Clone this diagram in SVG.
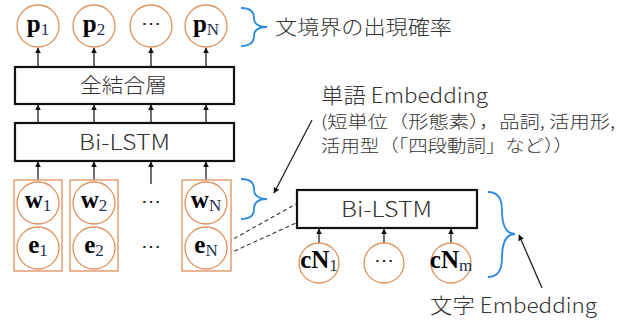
<svg xmlns="http://www.w3.org/2000/svg" width="624" height="320" viewBox="0 0 624 320">
<style>
.circ{fill:#fff;stroke:#E0905A;stroke-width:1.3}
.grp{fill:#fff;stroke:#E0905A;stroke-width:1.3}
.box{fill:#fff;stroke:#111;stroke-width:2.2}
.arr{stroke:#222;stroke-width:1.3;fill:none;marker-end:url(#ah)}
.dash{stroke:#333;stroke-width:1.1;stroke-dasharray:4,3;fill:none}
.brace{stroke:#2E8BE0;stroke-width:1.8;fill:none}
.lbl{font-family:"Liberation Serif",serif;font-weight:bold;font-size:25px;fill:#000}
.sub{font-size:17px;font-weight:normal;fill:#1F2F50}
.dots{font-family:"Liberation Serif",serif;font-size:20px;fill:#222}
.jp{font-family:"Noto Sans CJK JP","Noto Sans",sans-serif;font-weight:300;fill:#333}
</style>
<defs>
<marker id="ah" viewBox="0 0 10 10" refX="9" refY="5" markerWidth="6" markerHeight="7" orient="auto" markerUnits="userSpaceOnUse"><path d="M0,0 L10,5 L0,10 z" fill="#111"/></marker>
</defs>

<g id="connectors">
<line class="arr" x1="38" y1="67" x2="38" y2="48"/>
<line class="arr" x1="94" y1="67" x2="94" y2="48"/>
<line class="arr" x1="151" y1="67" x2="151" y2="48"/>
<line class="arr" x1="206" y1="67" x2="206" y2="48"/>
<line class="arr" x1="38" y1="123" x2="38" y2="105"/>
<line class="arr" x1="94" y1="123" x2="94" y2="105"/>
<line class="arr" x1="151" y1="123" x2="151" y2="105"/>
<line class="arr" x1="206" y1="123" x2="206" y2="105"/>
<line class="arr" x1="38" y1="180" x2="38" y2="162"/>
<line class="arr" x1="94" y1="180" x2="94" y2="162"/>
<line class="arr" x1="151" y1="184" x2="151" y2="162"/>
<line class="arr" x1="206" y1="180" x2="206" y2="162"/>
<line class="arr" x1="319" y1="243" x2="319" y2="229"/>
<line class="arr" x1="384" y1="243" x2="384" y2="229"/>
<line class="arr" x1="451" y1="243" x2="451" y2="229"/>
<line class="dash" x1="228" y1="242" x2="296" y2="204"/>
<line class="dash" x1="228" y1="254" x2="296" y2="223"/>
<line class="arr" x1="312" y1="120" x2="274" y2="193"/>
<line class="arr" x1="542" y1="288" x2="519" y2="235"/>
</g>

<g id="p1"><circle class="circ" cx="38" cy="26" r="21"/><text class="lbl" x="38" y="32" text-anchor="middle">p<tspan class="sub" dy="3">1</tspan></text></g>
<g id="p2"><circle class="circ" cx="94" cy="26" r="21"/><text class="lbl" x="94" y="32" text-anchor="middle">p<tspan class="sub" dy="3">2</tspan></text></g>
<g id="pdots"><circle class="circ" cx="151" cy="26" r="21"/><text class="dots" x="151" y="30" text-anchor="middle">⋯</text></g>
<g id="pN"><circle class="circ" cx="206" cy="26" r="21"/><text class="lbl" x="206" y="32" text-anchor="middle">p<tspan class="sub" dy="3">N</tspan></text></g>

<g id="fc"><rect class="box" x="15" y="67" width="219" height="37"/><text class="jp" x="80" y="93" font-size="20" textLength="87" lengthAdjust="spacingAndGlyphs">全結合層</text></g>
<g id="bilstm1"><rect class="box" x="15" y="123" width="219" height="38"/><text class="jp" x="79" y="150" font-size="21" textLength="91" lengthAdjust="spacingAndGlyphs">Bi-LSTM</text></g>

<g id="word1"><rect class="grp" x="14" y="180" width="48" height="91"/>
<circle class="circ" cx="38" cy="203" r="21"/><text class="lbl" x="38" y="208" text-anchor="middle">w<tspan class="sub" dy="3">1</tspan></text>
<circle class="circ" cx="38" cy="248" r="21"/><text class="lbl" x="38" y="253" text-anchor="middle">e<tspan class="sub" dy="3">1</tspan></text></g>
<g id="word2"><rect class="grp" x="70" y="180" width="48" height="91"/>
<circle class="circ" cx="94" cy="203" r="21"/><text class="lbl" x="94" y="208" text-anchor="middle">w<tspan class="sub" dy="3">2</tspan></text>
<circle class="circ" cx="94" cy="248" r="21"/><text class="lbl" x="94" y="253" text-anchor="middle">e<tspan class="sub" dy="3">2</tspan></text></g>
<g id="worddots"><text class="dots" x="151" y="208" text-anchor="middle">⋯</text><text class="dots" x="151" y="253" text-anchor="middle">⋯</text></g>
<g id="wordN"><rect class="grp" x="182" y="180" width="49" height="91"/>
<circle class="circ" cx="206" cy="203" r="21"/><text class="lbl" x="206" y="208" text-anchor="middle">w<tspan class="sub" dy="3">N</tspan></text>
<circle class="circ" cx="206" cy="248" r="21"/><text class="lbl" x="206" y="253" text-anchor="middle">e<tspan class="sub" dy="3">N</tspan></text></g>

<g id="bilstm2"><rect class="box" x="297" y="190" width="180" height="38"/><text class="jp" x="341" y="217" font-size="21" textLength="91" lengthAdjust="spacingAndGlyphs">Bi-LSTM</text></g>

<g id="cN1"><circle class="circ" cx="319" cy="263" r="20"/><text class="lbl" x="319" y="268" font-size="22" text-anchor="middle">cN<tspan class="sub" dy="3">1</tspan></text></g>
<g id="cNdots"><circle class="circ" cx="384" cy="263" r="20"/><text class="dots" x="384" y="267" text-anchor="middle">⋯</text></g>
<g id="cNm"><circle class="circ" cx="451" cy="263" r="20"/><text class="lbl" x="451" y="268" font-size="22" text-anchor="middle">cN<tspan class="sub" dy="3">m</tspan></text></g>

<g id="braces">
<path class="brace" d="M241,8 Q254,8 254,18 Q254,27 267,27 Q254,27 254,36 Q254,46 241,46"/>
<path class="brace" d="M241,179 Q254,179 254,189 Q254,199 267,199 Q254,199 254,209 Q254,219 241,219"/>
<path class="brace" d="M488,192 Q502,192 502,210 Q502,234 515,234 Q502,234 502,258 Q502,277 488,277"/>
</g>

<g id="labels">
<text class="jp" x="275" y="35" font-size="20" textLength="177" lengthAdjust="spacingAndGlyphs">文境界の出現確率</text>
<text class="jp" x="321" y="103" font-size="21" textLength="167" lengthAdjust="spacingAndGlyphs">単語 Embedding</text>
<text class="jp" x="321" y="128" font-size="17" textLength="294" lengthAdjust="spacingAndGlyphs">(短単位（形態素），品詞, 活用形,</text>
<text class="jp" x="321" y="152" font-size="17" textLength="252" lengthAdjust="spacingAndGlyphs">活用型（「四段動詞」など））</text>
<text class="jp" x="430" y="313" font-size="21" textLength="167" lengthAdjust="spacingAndGlyphs">文字 Embedding</text>
</g>
</svg>
